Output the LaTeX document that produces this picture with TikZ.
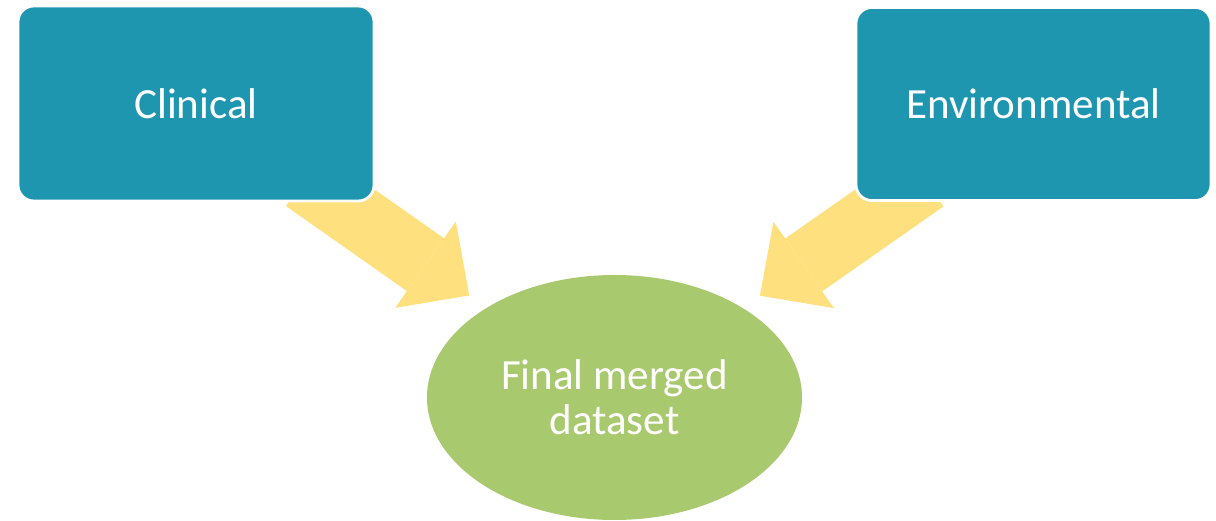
\documentclass[tikz,border=0pt]{standalone}
\usepackage{fontspec}
\setmainfont{Carlito}
\usepackage{tikz}
\usetikzlibrary{shapes.geometric, arrows.meta, positioning}
\tikzset{
    srcblock/.style={rectangle, draw=white, fill=#1, rounded corners=9pt, minimum width=7.12cm, minimum height=3.9cm, align=center, text=white, font=\fontsize{24.5}{26}\selectfont, line width=1.6pt, inner sep=0pt},
    mergeblob/.style={ellipse, fill=#1, minimum width=7.5cm, minimum height=4.9cm, align=center, text=white, font=\fontsize{24.5}{25.6}\selectfont, inner sep=0pt},
    feedarrow/.style={-{Triangle[length=1.07cm, width=2.11cm, line width=0pt]}, draw=feedyellow, line width=1.29cm, shorten <=2.65cm, shorten >=3.55cm}
}
\definecolor{blockteal}{RGB}{30,150,176}
\definecolor{feedyellow}{RGB}{254,224,127}
\definecolor{mergegreen}{RGB}{169,201,110}

\begin{document}
\begin{tikzpicture}

\useasboundingbox (0,0) rectangle (24.32,10.42);

% arrows first, the boxes hide their tails
\coordinate (clinpos) at (3.92,8.35);
\coordinate (envpos) at (20.67,8.34);
\node[mergeblob=mergegreen] (merged) at (12.29,2.47) {Final merged\\dataset};

\draw[feedarrow] (clinpos) -- (merged.center);
\draw[feedarrow] (envpos) -- (merged.center);

\node[srcblock=blockteal] (clinical) at (clinpos) {Clinical};
\node[srcblock=blockteal, minimum width=7.1cm, minimum height=3.86cm] (environ) at (envpos) {Environmental};

\end{tikzpicture}
\end{document}
